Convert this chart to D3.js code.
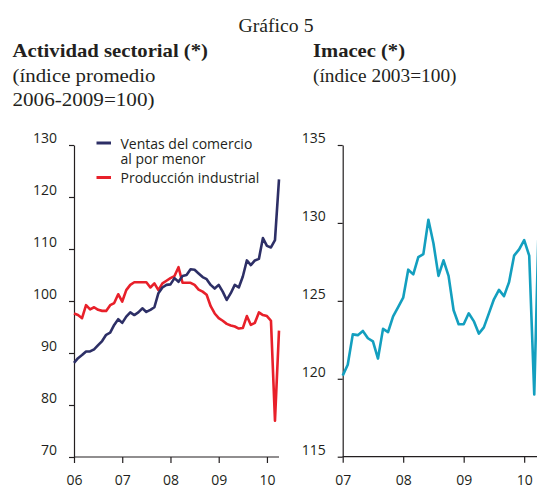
<!DOCTYPE html>
<html>
<head>
<meta charset="utf-8">
<script src="https://cdn.jsdelivr.net/npm/d3@7"></script>
<style>
  body { margin: 0; background: #fff; }
  svg { display: block; }
  .tick text { font-family: "Open Sans", sans-serif; font-size: 14px; fill: #231f20; }
  .tick line, .domain { stroke: #231f20; stroke-width: 1.2; }
  .title { font-family: "Liberation Serif", serif; font-size: 19.5px; fill: #231f20; }
  .legend { font-family: "Open Sans", sans-serif; font-size: 14px; fill: #231f20; }
</style>
</head>
<body>
<div id="chart"></div>
<script>
// monthly data, left panel starts Jan 2006, right panel Jan 2007
var leftStart = 2006;
var rightStart = 2007;

var ventas = [88.1, 89.0, 89.6, 90.3, 90.3, 90.7, 91.5, 92.3, 93.5, 93.9, 95.4, 96.5,
  95.8, 97.0, 97.8, 97.3, 97.8, 98.6, 97.9, 98.3, 98.8, 101.5, 102.6, 103.1,
  103.2, 104.4, 103.7, 104.8, 105.0, 106.1, 106.0, 105.3, 104.6, 104.2, 103.1, 102.4,
  103.1, 101.8, 100.2, 101.5, 103.1, 102.6, 104.7, 107.8, 106.9, 107.8, 108.1, 112.1,
  110.6, 110.3, 111.7, 123.4];

var produccion = [97.6, 97.3, 96.7, 99.2, 98.4, 98.8, 98.3, 98.1, 98.1, 99.2, 99.6, 101.3,
  99.9, 102.1, 103.1, 103.6, 103.6, 103.6, 103.6, 102.6, 103.4, 102.1, 103.4, 103.9,
  104.4, 104.8, 106.5, 103.5, 103.5, 103.5, 103.1, 102.2, 101.8, 101.2, 99.0, 97.6,
  96.7, 96.2, 95.6, 95.3, 95.1, 94.7, 94.8, 97.1, 95.4, 95.8, 97.8, 97.3,
  97.1, 96.2, 77.0, 94.3];

var imacec = [120.2, 120.9, 122.85, 122.8, 123.07, 122.6, 122.4, 121.3, 123.2, 123.0, 124.0, 124.6,
  125.2, 127.0, 126.7, 127.8, 128.0, 130.2, 128.7, 126.6, 127.6, 126.6, 124.4, 123.5,
  123.5, 124.2, 123.7, 122.9, 123.3, 124.2, 125.1, 125.7, 125.3, 126.2, 127.9, 128.3,
  128.9, 127.9, 119.0, 131.5];

var leftYTicks = [70, 80, 90, 100, 110, 120, 130];
var rightYTicks = [115, 120, 125, 130, 135];
var leftXTicks = [2006, 2007, 2008, 2009, 2010];
var rightXTicks = [2007, 2008, 2009, 2010];

var colors = { ventas: "#2d2f66", produccion: "#e8202a", imacec: "#139fbf" };

var svg = d3.select("#chart").append("svg")
  .attr("width", 537)
  .attr("height", 488);

// titles (textLength to match the wider serif of the original)
var titles = [
  { text: "Gráfico 5", x: 276, y: 31.5, anchor: "middle", bold: false, len: 75 },
  { text: "Actividad sectorial (*)", x: 12.5, y: 56.5, bold: true, len: 195.5 },
  { text: "(índice promedio", x: 12.5, y: 81.5, bold: false, len: 143 },
  { text: "2006-2009=100)", x: 12.5, y: 106, bold: false, len: 142 },
  { text: "Imacec (*)", x: 313, y: 56.5, bold: true, len: 92 },
  { text: "(índice 2003=100)", x: 313, y: 81.5, bold: false, len: 143.5 }
];
titles.forEach(t => {
  svg.append("text").attr("class", "title")
    .attr("x", t.x).attr("y", t.y)
    .attr("text-anchor", t.anchor || "start")
    .attr("font-weight", t.bold ? "bold" : "normal")
    .attr("textLength", t.len)
    .attr("lengthAdjust", "spacingAndGlyphs")
    .text(t.text);
});

function yearFmt(d) { return d3.format("02d")(d % 100); }

// left panel
var xLeft = d3.scaleLinear()
  .domain([leftStart, leftStart + (ventas.length - 1) / 12])
  .range([74, 279]);
var yLeft = d3.scaleLinear().domain([70, 130]).range([457, 145]);

// right panel
var xRight = d3.scaleLinear()
  .domain([rightStart, rightStart + (imacec.length - 1) / 12])
  .range([342.7, 539.3]);
var yRight = d3.scaleLinear().domain([115, 135]).range([456.7, 145]);

function drawAxes(x, y, xTicks, yTicks, xEnd) {
  var gy = svg.append("g")
    .attr("transform", `translate(${x.range()[0]},0)`)
    .call(d3.axisLeft(y).tickValues(yTicks).tickSize(5).tickSizeOuter(0).tickPadding(12));
  gy.selectAll(".tick text").attr("dy", "-0.15em");

  var gx = svg.append("g")
    .attr("transform", `translate(0,${y.range()[0]})`)
    .call(d3.axisBottom(x).tickValues(xTicks).tickFormat(yearFmt)
      .tickSize(6).tickSizeOuter(0).tickPadding(12));
  gx.select(".domain").attr("d", `M${x.range()[0]},0H${xEnd}`);
}

drawAxes(xLeft, yLeft, leftXTicks, leftYTicks, 279);
drawAxes(xRight, yRight, rightXTicks, rightYTicks, 537);

function drawLine(values, start, x, y, color) {
  var line = d3.line()
    .x((d, i) => x(start + i / 12))
    .y(d => y(d));
  svg.append("path")
    .datum(values)
    .attr("fill", "none")
    .attr("stroke", color)
    .attr("stroke-width", 2.6)
    .attr("stroke-linejoin", "round")
    .attr("d", line);
}

drawLine(produccion, leftStart, xLeft, yLeft, colors.produccion);
drawLine(ventas, leftStart, xLeft, yLeft, colors.ventas);
drawLine(imacec, rightStart, xRight, yRight, colors.imacec);

// legend
var legend = [
  { lines: ["Ventas del comercio", "al por menor"], color: colors.ventas, y: 143 },
  { lines: ["Producción industrial"], color: colors.produccion, y: 177.5 }
];
legend.forEach(l => {
  svg.append("line")
    .attr("x1", 96.5).attr("x2", 111)
    .attr("y1", l.y).attr("y2", l.y)
    .attr("stroke", l.color).attr("stroke-width", 3);
  var txt = svg.append("text").attr("class", "legend")
    .attr("x", 120.5).attr("y", l.y + 5.5);
  l.lines.forEach((t, k) => {
    txt.append("tspan")
      .attr("x", 120.5)
      .attr("dy", k == 0 ? 0 : 15)
      .text(t);
  });
});
</script>
</body>
</html>
